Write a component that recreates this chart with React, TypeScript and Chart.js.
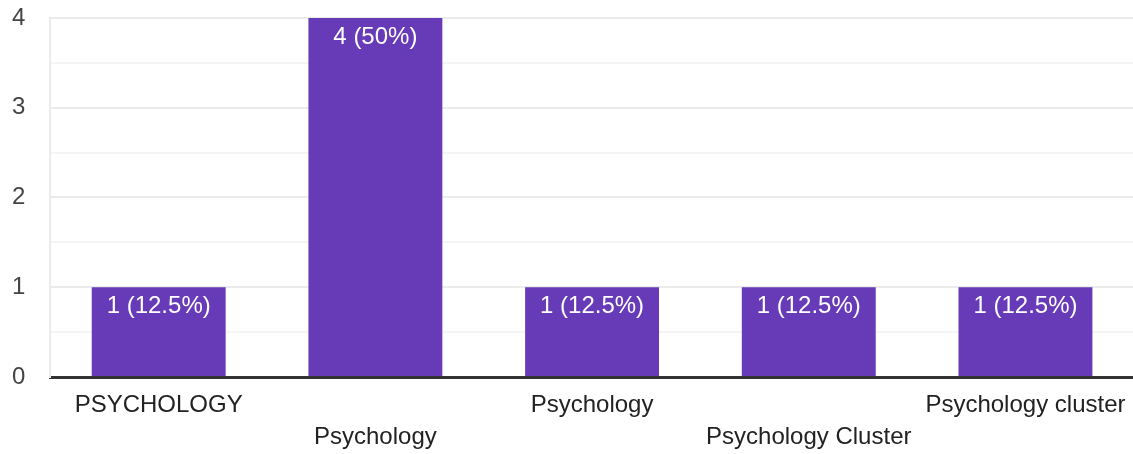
import React, { useEffect, useRef } from "react";
import { Chart, registerables } from "chart.js";

Chart.register(...registerables);

const categories = ["PSYCHOLOGY", "Psychology", "Psychology", "Psychology Cluster", "Psychology cluster"];
const counts = [1, 4, 1, 1, 1];
const yTickValues = [0, 1, 2, 3, 4];

const FONT = "'Liberation Sans', Arial, sans-serif";
const BAR_COLOR = "#673ab7";

const total = counts.reduce((a, b) => a + b, 0);

const barLabelPlugin = {
  id: "barLabels",
  afterDatasetsDraw(chart: any) {
    const ctx = chart.ctx;
    const meta = chart.getDatasetMeta(0);
    ctx.save();
    ctx.fillStyle = "#ffffff";
    ctx.font = `24px ${FONT}`;
    ctx.textAlign = "center";
    ctx.textBaseline = "alphabetic";
    meta.data.forEach((bar: any, i: number) => {
      const v = counts[i];
      const pct = Math.round((v / total) * 1000) / 10;
      ctx.fillText(`${v} (${pct}%)`, bar.x, bar.y + 26);
    });
    ctx.restore();
  },
};

export default function App() {
  const ref = useRef<HTMLCanvasElement>(null);
  useEffect(() => {
    if (!ref.current) return;
    const chart = new Chart(ref.current, {
      type: "bar",
      data: {
        labels: categories,
        datasets: [
          {
            data: counts,
            backgroundColor: BAR_COLOR,
            categoryPercentage: 1,
            barPercentage: 0.618,
          },
        ],
      },
      options: {
        animation: false,
        responsive: false,
        devicePixelRatio: 1,
        layout: { padding: { left: 12, top: -12, right: -4, bottom: -12 } },
        plugins: { legend: { display: false }, tooltip: { enabled: false } },
        scales: {
          x: {
            grid: { display: false, drawTicks: false },
            border: { color: "#333333", width: 3 },
            ticks: {
              autoSkip: false,
              maxRotation: 0,
              minRotation: 0,
              padding: 12.5,
              color: "#222222",
              font: { family: FONT, size: 24, lineHeight: 32 / 24 },
              callback: (_v: any, i: number) => (i % 2 === 1 ? ["", categories[i]] : categories[i]),
            },
          },
          y: {
            min: 0,
            max: 4,
            grid: {
              drawTicks: false,
              lineWidth: 2,
              color: (c: any) =>
                c.tick && Number.isInteger(c.tick.value) ? "#ebebeb" : "#f5f5f5",
            },
            border: { color: "#ebebeb", width: 2 },
            ticks: {
              stepSize: 0.5,
              padding: 12.5,
              crossAlign: "far",
              color: "#444444",
              font: { family: FONT, size: 24 },
              callback: (v: any) => (yTickValues.includes(Number(v)) ? String(v) : ""),
            },
          },
        },
      },
      plugins: [barLabelPlugin],
    });
    return () => chart.destroy();
  }, []);
  return (
    <div style={{ position: "absolute", left: 0, top: 0, width: 1133, height: 454, background: "#fff", overflow: "hidden" }}>
      <canvas ref={ref} width={1138} height={463} style={{ display: "block", marginTop: -9 }} />
    </div>
  );
}
